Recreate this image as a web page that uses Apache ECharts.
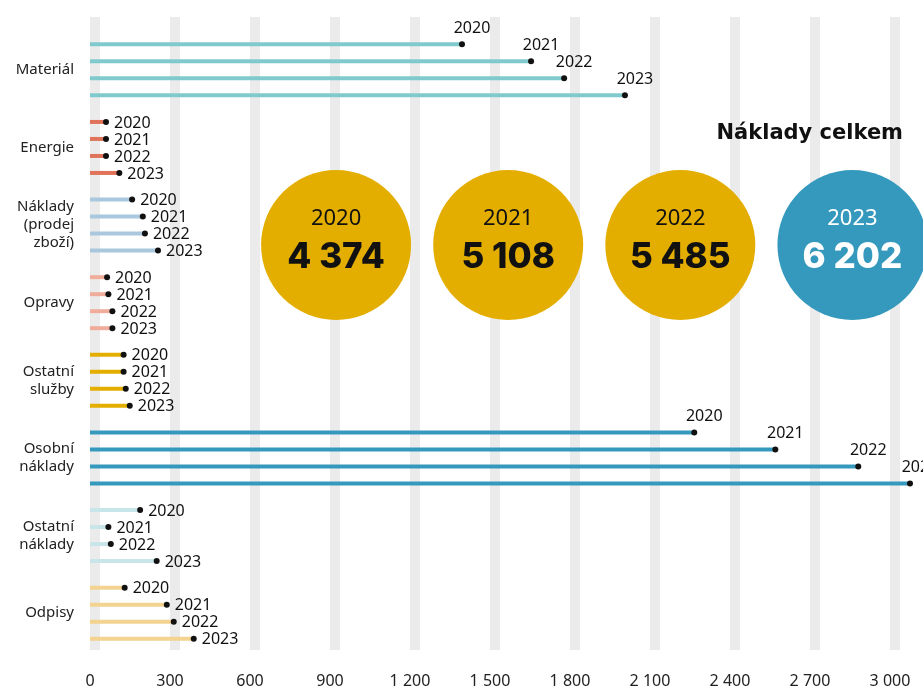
<!DOCTYPE html>
<html>
<head>
<meta charset="utf-8">
<script src="https://cdn.jsdelivr.net/npm/echarts@6/dist/echarts.min.js"></script>
<style>
  html, body { margin: 0; padding: 0; background: #fff; }
  #chart { width: 923px; height: 689px; }
</style>
</head>
<body>
<div id="chart"></div>
<script>
// data
const categories = ["Materiál", "Energie", "Náklady\n(prodej\nzboží)", "Opravy", "Ostatní\nslužby", "Osobní\nnáklady", "Ostatní\nnáklady", "Odpisy"]
const years = ["2020", "2021", "2022", "2023"]
const values2020 = [1395, 60, 158, 64, 126, 2266, 188, 130]
const values2021 = [1654, 60, 198, 69, 126, 2570, 69, 288]
const values2022 = [1778, 60, 206, 84, 134, 2881, 78, 314]
const values2023 = [2006, 110, 255, 84, 149, 3075, 250, 389]
const totals = [4374, 5108, 5485, 6202]
const xTicks = [0, 300, 600, 900, 1200, 1500, 1800, 2100, 2400, 2700, 3000]

// styles
const catColors = ["#80cacd", "#e0735a", "#a9c8dd", "#f0ad9b", "#e4ae00", "#3499bd", "#c8e6e9", "#f3d38f"]
const labelAbove = [0, 5]
const gold = "#e4ae00"
const blue = "#3499bd"
const barW = 4
const rowStep = 17

const fmt = (n) => String(n).replace(/\B(?=(\d{3})+(?!\d))/g, " ")
const yearValues = [values2020, values2021, values2022, values2023]

const barSeries = yearValues.map((vals, i) => ({
  name: years[i],
  type: "bar",
  xAxisIndex: 0,
  yAxisIndex: 0,
  barWidth: barW,
  barGap: ((rowStep - barW) / barW) * 100 + "%",
  clip: false,
  silent: true,
  data: vals.map((v, c) => ({ value: v, itemStyle: { color: catColors[c] } }))
}))

const dotSeries = yearValues.map((vals, i) => ({
  name: years[i] + " dot",
  type: "scatter",
  xAxisIndex: 0,
  yAxisIndex: 0,
  symbolSize: 6,
  symbolOffset: [0, (i - 1.5) * rowStep],
  itemStyle: { color: "#111", opacity: 1 },
  clip: false,
  silent: true,
  z: 3,
  data: vals.map((v, c) => ({
    value: [v, c],
    label: labelAbove.includes(c)
      ? { show: true, position: "top", distance: 5, offset: [10, 0] }
      : { show: true, position: "right", distance: 5, offset: [0, 1] }
  })),
  label: {
    formatter: years[i],
    color: "#111",
    fontSize: 16,
    fontFamily: "Noto Sans"
  }
}))

// totals circles, one per year (x = year index)
const circleSeries = {
  type: "scatter",
  xAxisIndex: 2,
  yAxisIndex: 2,
  symbolSize: 150,
  silent: true,
  z: 4,
  data: totals.map((t, i) => ({
    value: [i, 0.5],
    itemStyle: { color: i === 3 ? blue : gold, opacity: 1 },
    label: { color: i === 3 ? "#fff" : "#111" }
  })),
  label: {
    show: true,
    position: "inside",
    offset: [0, -7],
    formatter: (p) => "{y|" + years[p.dataIndex] + "}\n{v|" + fmt(totals[p.dataIndex]) + "}",
    rich: {
      y: { fontSize: 22, fontFamily: "Noto Sans", lineHeight: 39, align: "center" },
      v: { fontSize: 35, fontFamily: "Inter", fontWeight: 800, lineHeight: 39, align: "center" }
    }
  }
}

const option = {
  backgroundColor: "#fff",
  animation: false,
  title: {
    text: "Náklady celkem",
    right: 20,
    top: 123,
    padding: 0,
    textStyle: { fontSize: 21, fontWeight: "bold", fontFamily: "DejaVu Sans", color: "#111" }
  },
  grid: [
    { left: 90, right: 33, top: 31, bottom: 34 },
    { left: 95, right: 28, top: 17, bottom: 39 },
    { left: 250, right: 0, top: 170, height: 150 }
  ],
  xAxis: [
    {
      gridIndex: 0,
      type: "value",
      min: xTicks[0],
      max: xTicks[xTicks.length - 1],
      interval: xTicks[1] - xTicks[0],
      axisLine: { show: false },
      axisTick: { show: false },
      splitLine: { show: false },
      axisLabel: {
        margin: 21,
        fontSize: 16,
        color: "#222",
        fontFamily: "Noto Sans",
        formatter: (v) => fmt(v)
      }
    },
    {
      gridIndex: 1,
      type: "value",
      min: xTicks[0],
      max: xTicks[xTicks.length - 1],
      interval: xTicks[1] - xTicks[0],
      axisLine: { show: false },
      axisTick: { show: false },
      axisLabel: { show: false },
      splitLine: { show: true, lineStyle: { color: "#ebebeb", width: 10 } }
    },
    {
      gridIndex: 2,
      type: "value",
      min: -0.5,
      max: 3.41,
      show: false
    }
  ],
  yAxis: [
    {
      gridIndex: 0,
      type: "category",
      inverse: true,
      data: categories,
      axisLine: { show: false },
      axisTick: { show: false },
      splitLine: { show: false },
      axisLabel: {
        margin: 16,
        fontSize: 15,
        lineHeight: 18,
        color: "#222",
        fontFamily: "Noto Sans"
      }
    },
    { gridIndex: 1, type: "value", show: false },
    { gridIndex: 2, type: "value", min: 0, max: 1, show: false }
  ],
  series: [...barSeries, ...dotSeries, circleSeries]
}

const myChart = echarts.init(document.getElementById("chart"), null, { renderer: "canvas" })
myChart.setOption(option)
window.addEventListener("resize", () => {
  myChart.resize()
})
</script>
</body>
</html>
